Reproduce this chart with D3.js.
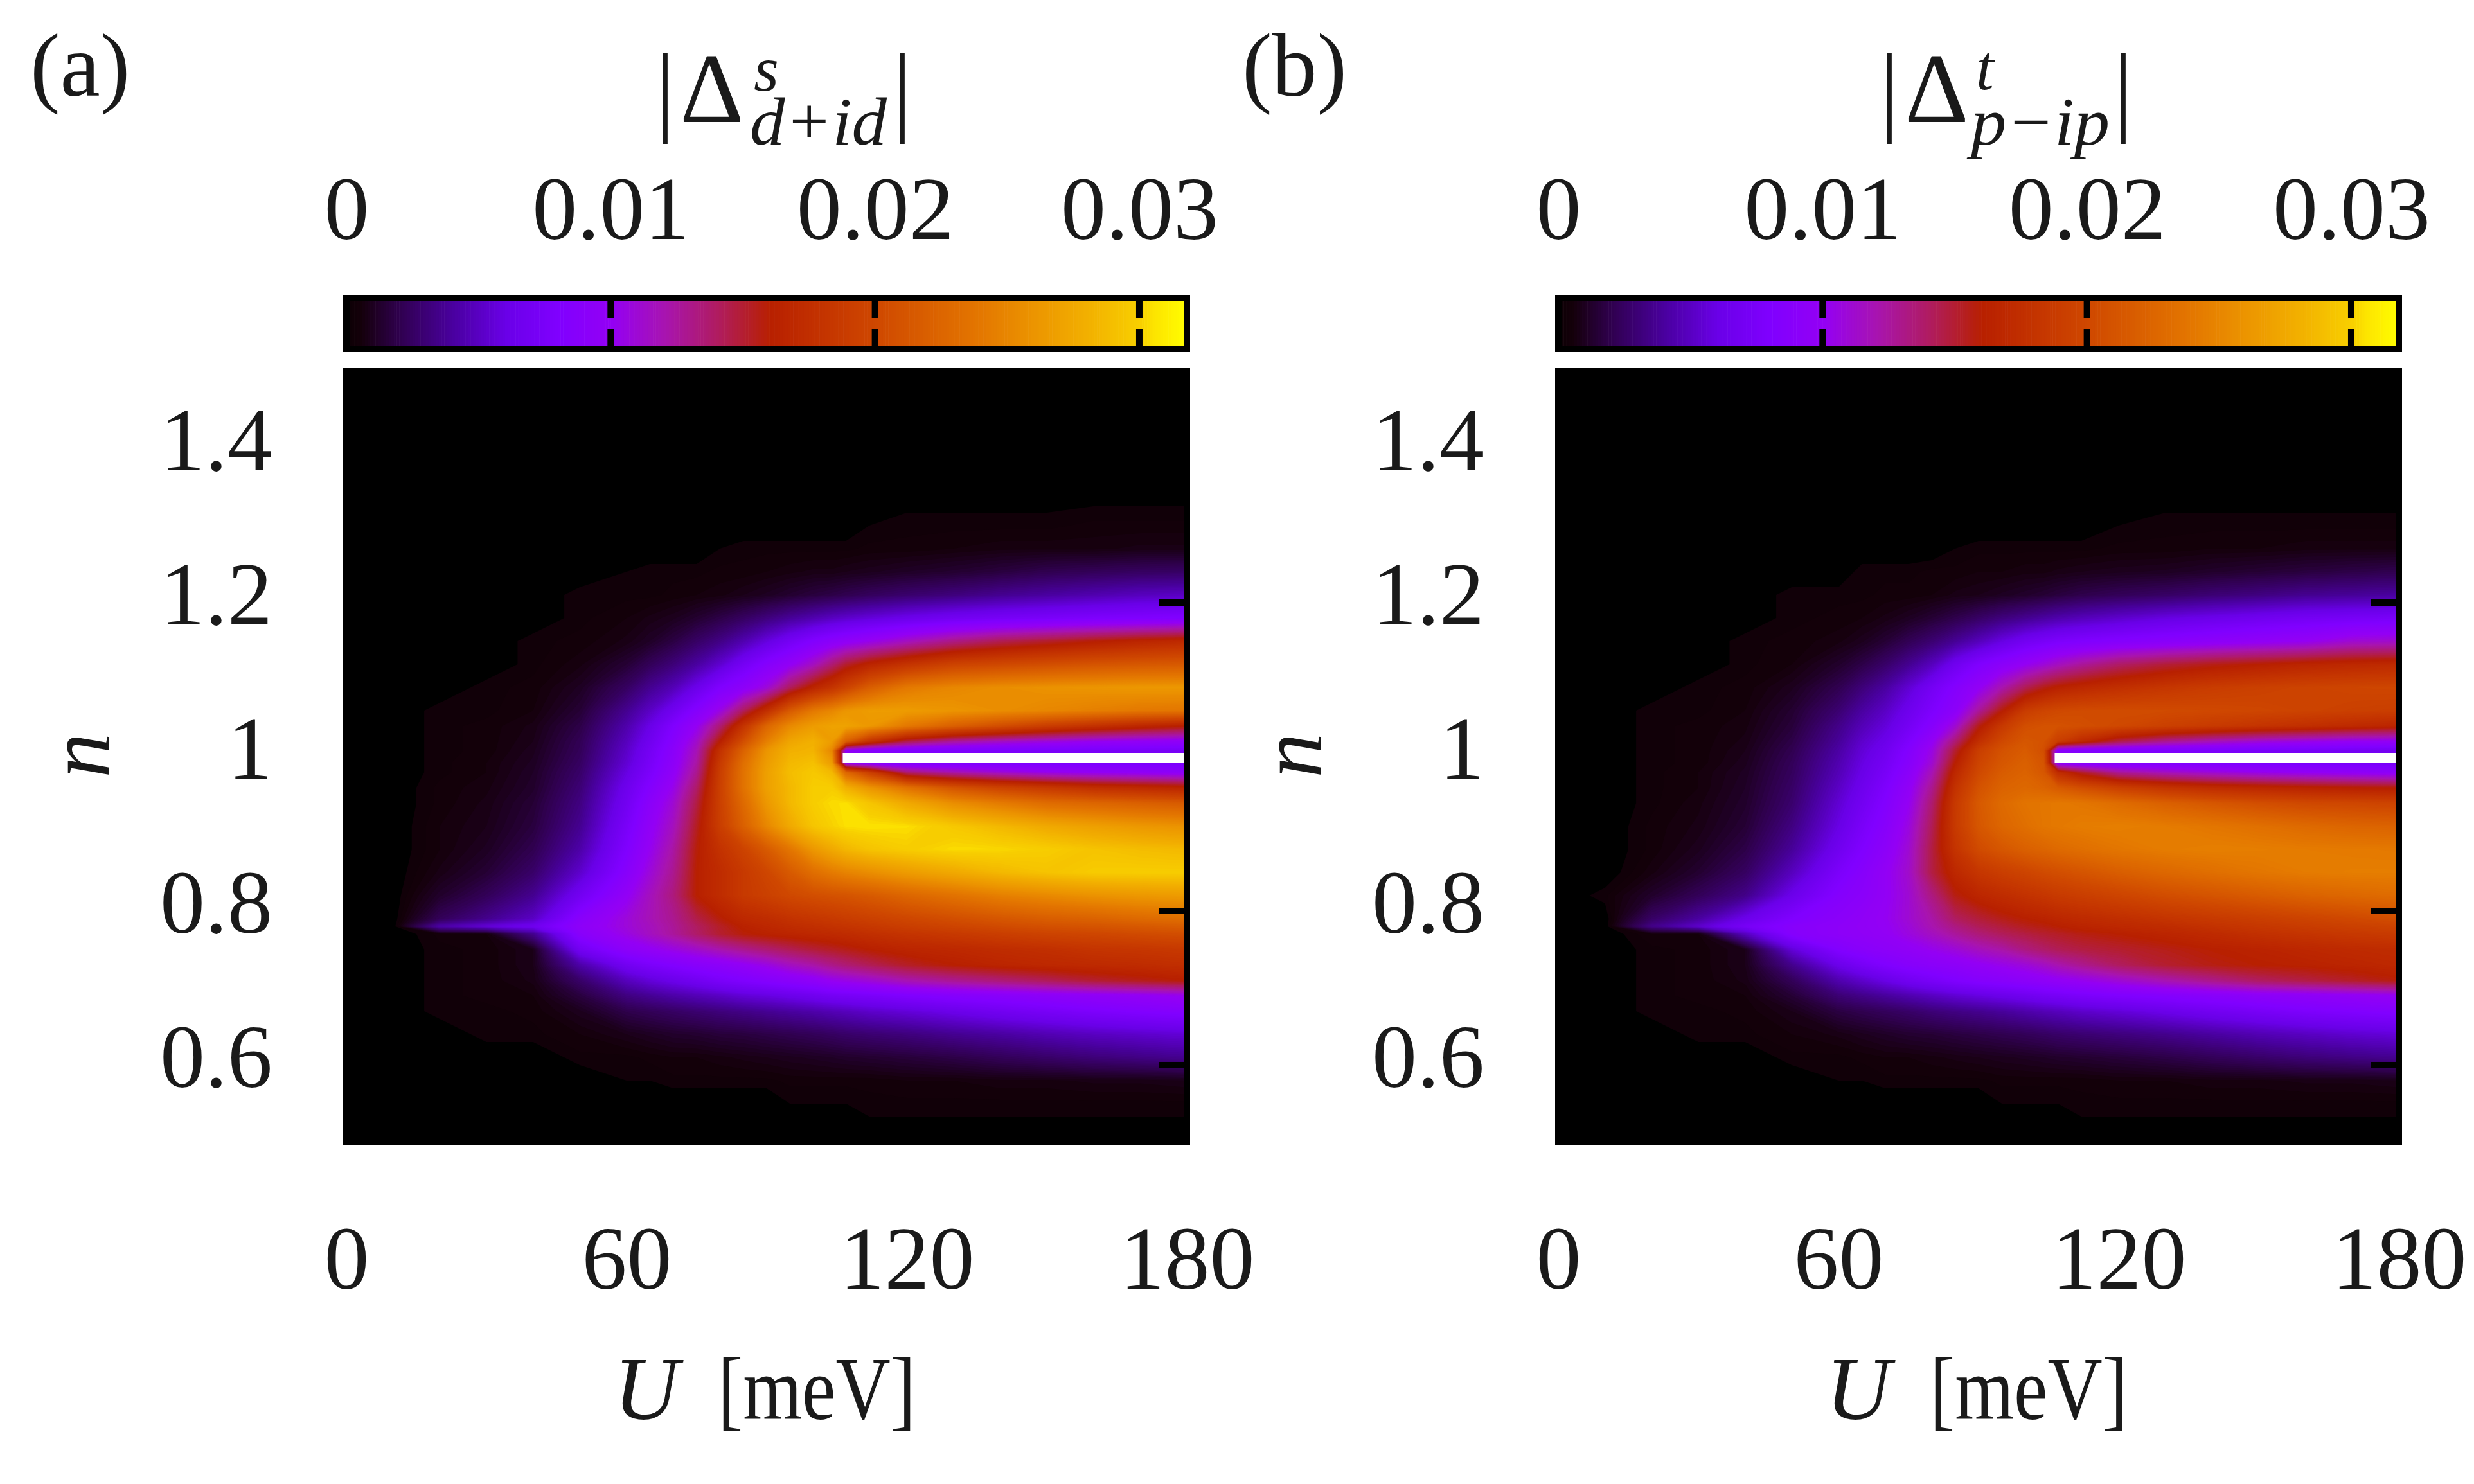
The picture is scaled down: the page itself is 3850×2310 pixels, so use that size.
<!DOCTYPE html>
<html><head><meta charset="utf-8">
<script src="https://cdn.jsdelivr.net/npm/d3@7"></script>
<style>html,body{margin:0;padding:0;background:#fff}svg{display:block}text{font-family:"Liberation Serif",serif;fill:#1a1a1a}</style>
</head><body><svg id="c" width="3850" height="2310"></svg>
<script>
// interaction strength U [meV] at each table column
const U = [0,10,20,30,40,50,60,65,70,75,80,85,90,95,100,104,107,112,120,130,140,150,160,170,180];
// filling n at each table row
const N = [1.5,1.35,1.3,1.27,1.24,1.21,1.18,1.15,1.12,1.09,1.06,1.04,1.02,1.008,0.992,0.98,0.96,0.94,0.91,0.88,0.85,0.82,0.79,0.78,0.77,0.75,0.73,0.71,0.69,0.67,0.64,0.61,0.58,0.55,0.5];
const valueUnit = 1e-4;
// |Δ^s_{d+id}| in units of 1e-4
const gapA = [
[0,0,0,0,0,0,0,0,0,0,0,0,0,0,0,0,0,0,0,0,0,0,0,0,0],
[0,0,0,0,0,0,0,0,0,0,0,0,0,0,0,0,0,0,0,0,0,0,0,0,0],
[0,0,0,0,0,0,0,0,0,0,0,0,0,0,0,0,0,2,3,3,3,3,4,4,4],
[0,0,0,0,0,0,0,0,0,0,2,3,3,3,3,3,3,4,4,5,6,6,6,7,7],
[0,0,0,0,0,0,2,3,3,3,4,4,5,6,7,7,8,9,11,13,16,20,22,24,25],
[0,0,0,0,0,3,3,3,4,5,6,8,10,13,16,18,20,23,27,31,36,40,44,48,50],
[0,0,0,0,0,3,5,7,9,13,18,24,31,38,44,49,52,56,62,68,72,75,78,80,82],
[0,0,0,0,3,4,7,11,17,25,33,44,57,70,82,90,95,102,115,130,142,150,158,165,170],
[0,0,0,0,3,6,14,22,30,40,53,70,85,98,115,135,150,165,180,195,200,205,210,213,215],
[0,0,0,3,4,10,24,36,46,62,80,92,108,140,165,180,195,218,240,250,255,258,260,262,262],
[0,0,3,3,5,14,36,50,66,85,105,140,175,215,240,250,260,265,265,260,255,250,245,240,238],
[0,0,3,4,7,18,43,60,80,100,135,180,225,252,265,270,270,262,240,220,205,190,178,168,160],
[0,0,3,4,8,21,48,66,86,112,160,205,245,272,280,265,220,180,145,125,115,108,102,98,95],
[0,0,3,4,9,22,51,70,90,118,178,222,260,280,282,250,95,85,80,78,76,75,74,73,72],
[0,0,3,5,10,24,54,73,93,123,186,232,265,285,290,265,95,85,80,78,77,76,76,75,75],
[0,0,3,5,11,26,58,76,96,128,190,235,268,288,295,285,225,190,135,120,110,102,98,95,92],
[0,0,4,6,12,29,64,83,103,138,192,235,268,285,298,298,280,260,235,210,195,185,175,170,165],
[0,0,4,7,14,32,68,90,110,146,192,228,262,285,298,303,304,293,275,255,242,230,225,220,215],
[0,0,5,8,16,36,74,96,116,153,190,220,250,275,293,300,304,305,304,295,285,275,268,262,258],
[0,0,5,10,20,42,80,101,123,158,178,195,215,238,262,275,284,292,298,303,302,298,292,288,285],
[0,0,7,14,26,52,87,108,128,160,172,185,198,215,232,242,248,255,265,275,285,292,297,298,298],
[0,0,12,22,36,68,98,116,133,160,172,185,192,200,205,208,210,215,225,235,245,252,258,262,265],
[0,0,22,35,50,88,108,118,128,145,158,168,172,178,182,185,188,192,198,205,212,218,222,228,232],
[0,0,42,55,65,92,108,116,126,140,152,162,167,172,175,178,180,184,190,196,202,207,210,214,218],
[0,0,4,5,35,88,105,115,125,138,150,158,162,165,168,170,172,175,180,185,190,195,198,202,205],
[0,0,3,4,8,68,92,98,105,112,120,128,135,142,148,152,155,160,165,168,172,175,180,182,185],
[0,0,3,4,8,42,68,76,82,88,92,98,105,115,122,130,135,142,152,160,165,168,170,172,175],
[0,0,3,4,7,26,48,56,62,68,75,80,85,90,95,102,105,110,120,128,135,142,150,155,160],
[0,0,3,4,5,16,32,37,42,46,50,55,58,62,66,70,72,75,80,85,88,92,95,98,102],
[0,0,3,3,4,9,19,22,25,28,31,34,37,40,43,46,48,52,56,62,68,73,78,82,85],
[0,0,0,3,3,5,8,10,12,13,15,16,18,20,22,24,26,28,31,36,40,45,49,52,55],
[0,0,0,0,0,3,3,4,5,5,6,7,8,9,10,11,12,13,15,18,22,26,30,33,36],
[0,0,0,0,0,0,2,2,3,3,3,3,3,4,4,4,4,4,5,5,6,6,7,7,8],
[0,0,0,0,0,0,0,0,0,0,0,0,0,2,2,2,2,3,3,3,3,3,3,3,3],
[0,0,0,0,0,0,0,0,0,0,0,0,0,0,0,0,0,0,0,0,0,0,0,0,0]];
// |Δ^t_{p-ip}| in units of 1e-4
const gapB = [
[0,0,0,0,0,0,0,0,0,0,0,0,0,0,0,0,0,0,0,0,0,0,0,0,0],
[0,0,0,0,0,0,0,0,0,0,0,0,0,0,0,0,0,0,0,0,0,0,0,0,0],
[0,0,0,0,0,0,0,0,0,0,0,0,0,0,0,0,0,0,2,3,3,3,3,3,3],
[0,0,0,0,0,0,0,0,0,0,0,2,3,3,3,3,3,3,4,4,5,5,6,6,6],
[0,0,0,0,0,0,0,3,3,3,4,4,5,5,6,6,7,8,9,10,12,14,16,18,20],
[0,0,0,0,0,3,3,3,4,4,5,7,8,10,12,14,16,19,22,25,29,32,36,38,40],
[0,0,0,0,0,3,4,5,7,10,14,19,25,31,36,40,43,47,52,58,62,66,70,72,74],
[0,0,0,0,3,4,6,9,14,21,28,37,47,58,68,73,77,80,84,88,92,96,100,110,112],
[0,0,0,0,3,5,12,18,26,36,48,66,80,90,100,108,115,125,138,148,155,160,165,168,170],
[0,0,0,3,4,9,20,30,40,54,70,84,98,120,142,155,162,168,175,182,188,192,195,197,198],
[0,0,3,3,5,13,28,40,50,64,78,92,125,158,188,196,200,202,203,202,200,198,195,192,190],
[0,0,3,4,6,15,34,46,56,70,86,110,155,185,205,208,208,205,200,192,186,180,175,170,165],
[0,0,3,4,7,18,38,52,62,78,98,135,175,200,212,208,190,170,145,128,118,110,105,100,98],
[0,0,3,4,8,20,41,55,66,83,105,150,190,208,216,205,88,82,80,78,76,74,72,70,68],
[0,0,3,4,9,22,44,58,70,86,110,160,196,212,220,210,90,84,82,80,78,76,74,73,72],
[0,0,3,5,10,23,46,60,73,90,118,168,200,216,222,212,172,150,125,115,108,102,98,95,92],
[0,0,3,5,11,25,50,64,78,96,128,178,208,222,226,222,215,205,192,180,172,167,163,160,158],
[0,0,3,6,12,27,54,68,82,100,136,185,214,228,236,238,240,238,230,220,212,205,200,198,195],
[0,0,4,7,14,32,59,74,87,106,142,186,212,225,232,238,240,243,245,242,238,233,228,224,222],
[0,0,4,9,18,38,66,80,92,110,146,180,202,212,220,224,228,232,238,243,245,244,242,241,240],
[0,0,6,13,24,48,76,86,98,112,146,168,182,190,196,202,205,210,218,226,232,238,242,244,244],
[0,3,12,22,34,62,84,90,98,110,132,156,166,172,178,182,186,190,196,204,210,216,222,226,230],
[0,0,25,40,62,80,90,95,100,110,122,140,148,155,160,163,166,170,174,180,185,190,195,200,205],
[0,0,34,52,72,86,92,96,99,108,120,132,142,148,154,157,160,164,168,172,178,183,188,192,195],
[0,0,5,5,48,85,92,95,98,106,115,125,134,141,146,150,152,156,160,165,170,176,180,184,187],
[0,0,3,4,8,55,82,88,92,96,102,108,116,122,132,138,142,146,150,155,160,163,167,170,172],
[0,0,3,4,8,35,62,72,80,86,90,93,98,103,108,114,120,128,140,150,156,160,162,165,168],
[0,0,3,4,7,22,44,52,60,68,74,80,85,88,92,95,98,102,110,120,130,140,146,152,158],
[0,0,3,4,5,14,29,34,39,44,49,54,58,62,66,70,72,76,80,84,88,92,94,97,100],
[0,0,3,3,4,8,17,20,23,26,30,33,36,39,43,46,48,52,56,62,68,73,78,81,84],
[0,0,0,3,3,5,7,9,11,13,14,16,18,20,22,24,26,28,31,35,40,45,49,53,56],
[0,0,0,0,0,3,3,4,5,5,6,7,8,9,10,11,12,13,15,18,22,26,30,33,36],
[0,0,0,0,0,0,2,2,3,3,3,3,3,4,4,4,4,4,5,5,6,6,7,7,8],
[0,0,0,0,0,0,0,0,0,0,0,0,0,2,2,2,2,3,3,3,3,3,3,3,3],
[0,0,0,0,0,0,0,0,0,0,0,0,0,0,0,0,0,0,0,0,0,0,0,0,0]];
// white line at half filling (no data): U range and n range
const voidU = [106.3,180];
const voidN = [0.9925,1.005];
// colour scale
const cbMax = 0.0318;
const cbValues = [0,0.0001,0.0005,0.001,0.002,0.004,0.006,0.008,0.01,0.012,0.014,0.016,0.018,0.02,0.022,0.024,0.026,0.028,0.03,0.0305,0.0318];
const cbColors = ["#000000","#0e0006","#14000a","#1e0022","#300050","#4a00a0","#6a00e8","#8000ff","#9400f4","#a814b0","#b01c60","#b82000","#c43400","#cf4800","#da6000","#e47800","#ec9500","#f2b000","#f8d000","#fde400","#ffff00"];
const xTicks = [0,60,120,180];
const yTicks = [1.4,1.2,1,0.8,0.6];
const yFrameTicks = [1.2,0.8,0.6];
const cbTicks = [0,0.01,0.02,0.03];

const svg = d3.select("#c");
const color = d3.scaleLinear().domain(cbValues).range(cbColors).interpolate(d3.interpolateRgb).clamp(true);
const levels = d3.range(2,318,1.5);
const contourGen = d3.contours().size([U.length,N.length]).smooth(true).thresholds(levels);

function panel(dx, rows, tag, sup, sub, t){
  const x = d3.scaleLinear().domain([0,180]).range([539+dx,1847+dx]);
  const y = d3.scaleLinear().domain([0.5,1.5]).range([1778,578]);
  const cb = d3.scaleLinear().domain([0,cbMax]).range([539+dx,1847+dx]);
  const colX = d3.scaleLinear().domain(U.map((_,i)=>i+0.5)).range(U.map(x));
  const rowY = d3.scaleLinear().domain(N.map((_,i)=>i+0.5)).range(N.map(y));
  const g = svg.append("g");
  const id = "clip"+tag;
  g.append("clipPath").attr("id",id).append("rect").attr("x",x(0)).attr("y",y(1.5)).attr("width",x(180)-x(0)).attr("height",y(0.5)-y(1.5));
  g.append("rect").attr("x",x(0)).attr("y",y(1.5)).attr("width",x(180)-x(0)).attr("height",y(0.5)-y(1.5)).attr("fill","#000");
  const path = d3.geoPath(d3.geoTransform({point(a,b){this.stream.point(colX(a),rowY(b));}}));
  g.append("g").attr("clip-path",`url(#${id})`).selectAll("path").data(contourGen(rows.flat())).join("path")
    .attr("d",path).attr("fill",d=>color((d.value+0.75)*valueUnit));
  g.append("rect").attr("x",x(voidU[0])).attr("y",y(voidN[1])).attr("width",x(voidU[1])-x(voidU[0])).attr("height",y(voidN[0])-y(voidN[1])).attr("fill","#fff");
  g.selectAll(".rt").data(yFrameTicks).join("line").attr("x1",x(180)-43).attr("x2",x(180)).attr("y1",y).attr("y2",y).attr("stroke","#000").attr("stroke-width",10);
  g.append("rect").attr("x",x(0)).attr("y",y(1.5)).attr("width",x(180)-x(0)).attr("height",y(0.5)-y(1.5)).attr("fill","none").attr("stroke","#000").attr("stroke-width",10);
  // colour bar
  const cbStrip = d3.range(0,cbMax,0.0001);
  g.selectAll(".cb").data(cbStrip).join("rect").attr("x",cb).attr("y",464).attr("width",d=>cb(d+0.0001)-cb(d)+0.6).attr("height",79).attr("fill",d=>color(d));
  g.append("rect").attr("x",cb(0)).attr("y",464).attr("width",cb(cbMax)-cb(0)).attr("height",79).attr("fill","none").attr("stroke","#000").attr("stroke-width",10);
  g.selectAll(".cbt").data(cbTicks.slice(1)).join("path").attr("d",d=>`M${cb(d)},469V495M${cb(d)},512V538`).attr("stroke","#000").attr("stroke-width",10).attr("fill","none");
  // axes (labels only: their tick marks are lost on the black field)
  const ax = g.append("g").attr("transform","translate(0,2006)").call(d3.axisBottom(x).tickValues(xTicks).tickSize(0).tickPadding(0).tickFormat(d3.format("d")));
  const ay = g.append("g").attr("transform",`translate(${424+dx},0)`).call(d3.axisLeft(y).tickValues(yTicks).tickSize(0).tickPadding(0).tickFormat(d=>d===1?"1":d3.format(".1f")(d)));
  const ac = g.append("g").attr("transform","translate(0,372)").call(d3.axisBottom(cb).tickValues(cbTicks).tickSize(0).tickPadding(0).tickFormat(d=>d===0?"0":d3.format(".2f")(d)));
  [ax,ay,ac].forEach(a=>{a.select(".domain").remove();a.attr("font-family",null).attr("font-size",null);});
  [ax,ac].forEach(a=>a.selectAll("text").attr("y",0).attr("dy",0).attr("font-size",140).attr("text-anchor","middle"));
  ay.selectAll("text").attr("dy",33).attr("font-size",140).attr("text-anchor","end");
  // labels
  g.append("text").attr("x",47+dx).attr("y",149).attr("font-size",140).text(`(${tag})`);
  g.append("text").attr("x",t.barL).attr("y",191).attr("font-size",155).attr("text-anchor","middle").text("|");
  g.append("text").attr("x",t.barR).attr("y",191).attr("font-size",155).attr("text-anchor","middle").text("|");
  g.append("text").attr("x",t.delta).attr("y",190).attr("font-size",155).text("Δ");
  g.append("text").attr("x",t.sup).attr("y",t.supY).attr("font-size",100).attr("font-style","italic").text(sup);
  g.append("text").attr("x",t.sub).attr("y",225).attr("font-size",105).attr("font-style","italic").attr("textLength",t.subLen).attr("lengthAdjust","spacingAndGlyphs").text(sub);
  g.append("text").attr("x",955+dx).attr("y",2209).attr("font-size",140).attr("font-style","italic").text("U");
  g.append("text").attr("x",1117+dx).attr("y",2209).attr("font-size",140).attr("textLength",308).attr("lengthAdjust","spacingAndGlyphs").text("[meV]");
  g.append("text").attr("transform",`translate(${170+dx},1176) rotate(-90)`).attr("text-anchor","middle").attr("font-size",140).attr("font-style","italic").text("n");
}
panel(0,gapA,"a","s","d+id",{barL:1035,barR:1404,delta:1058,sup:1173,supY:141,sub:1167,subLen:213});
panel(1886,gapB,"b","t","p\u2212ip",{barL:2940,barR:3304,delta:2964,sup:3075,supY:139,sub:3067,subLen:216});
</script></body></html>
